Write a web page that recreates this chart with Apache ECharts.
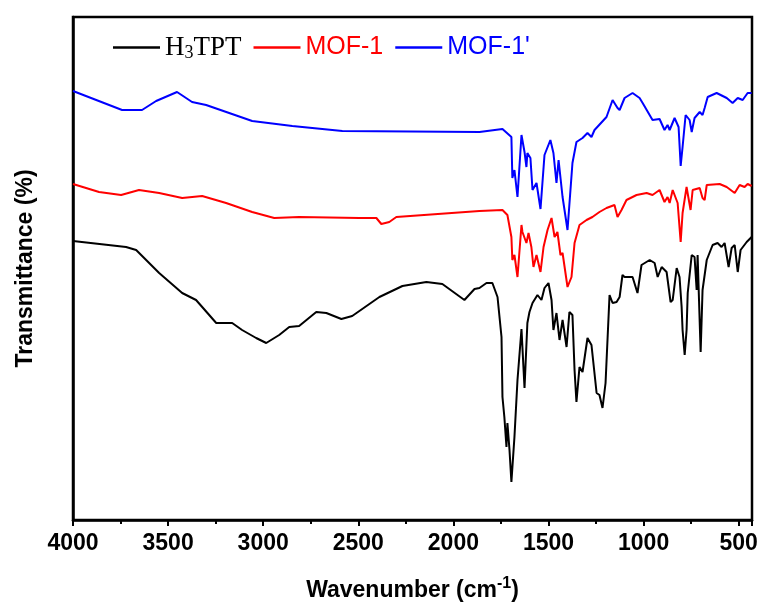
<!DOCTYPE html>
<html>
<head>
<meta charset="utf-8">
<script src="https://cdn.jsdelivr.net/npm/echarts@6/dist/echarts.min.js"></script>
<style>
html,body{margin:0;padding:0;background:#fff;}
#chart{width:760px;height:612px;}
</style>
</head>
<body>
<div id="chart"></div>
<script>
// Wavenumber (cm-1) and transmittance (arbitrary units, offset curves)
var h3tptWavenumber = [4000,3721,3668,3547,3426,3353,3247,3163,3111,3037,2984,2916,2863,2811,2721,2668,2589,2532,2389,2268,2142,2058,1942,1889,1863,1826,1795,1768,1747,1742,1732,1721,1716,1705,1695,1679,1663,1642,1626,1611,1600,1584,1558,1537,1521,1500,1484,1474,1458,1442,1426,1405,1390,1374,1363,1353,1337,1321,1295,1274,1247,1232,1216,1200,1179,1163,1142,1126,1111,1100,1090,1058,1032,1011,968,942,926,905,879,858,847,826,811,800,795,784,774,768,747,732,721,716,700,690,668,637,611,590,574,553,537,521,505,490,458,432];
var h3tptT = [279,273,270,247,227,220,197,197,190,182,177,185,193,194,208,207,201,204,223,234,238,236,220,231,232,237,237,223,183,123,103,73,97,70,38,83,140,191,132,197,208,217,225,220,232,237,220,190,207,180,200,173,208,205,150,118,153,148,182,175,127,125,112,137,225,217,218,223,245,243,242,243,227,255,260,257,243,253,248,218,220,252,243,213,190,165,190,227,265,263,230,265,168,230,260,275,277,273,277,253,272,275,248,270,278,283];

var mof1Wavenumber = [4000,3863,3747,3653,3547,3426,3321,3195,3058,2942,2811,2495,2405,2379,2337,2300,1863,1742,1716,1695,1690,1679,1663,1642,1637,1616,1605,1590,1579,1563,1542,1526,1505,1484,1468,1453,1437,1426,1400,1379,1363,1337,1300,1269,1232,1195,1153,1137,1116,1090,1037,984,953,916,890,874,863,847,821,805,795,774,753,742,705,690,679,668,600,563,521,495,469,453,432];
var mof1T = [336,328,325,330,327,322,324,317,308,302,303,302,302,296,298,303,309,310,305,283,260,265,243,295,288,277,287,273,253,265,248,273,290,302,283,288,265,267,233,243,277,295,300,303,308,312,315,303,310,320,325,327,325,330,318,323,317,330,317,278,307,333,310,330,332,322,320,335,336,333,327,335,333,336,334];

var mof1pWavenumber = [4000,3742,3637,3563,3453,3374,3300,3058,2847,2584,1863,1742,1695,1690,1679,1663,1642,1626,1616,1611,1595,1584,1563,1542,1521,1490,1474,1458,1447,1426,1400,1374,1353,1321,1295,1274,1258,1195,1163,1137,1126,1100,1058,1021,1005,953,916,890,874,863,837,816,805,795,779,758,747,732,705,690,679,663,616,563,532,505,479,453,432];
var mof1pT = [429,410,410,419,428,418,415,399,394,389,388,391,383,342,350,323,385,368,353,367,362,330,337,311,365,380,367,337,360,323,290,357,378,382,387,383,390,403,420,412,410,422,427,422,417,400,401,390,395,390,402,393,354,373,405,400,388,402,408,405,412,423,427,422,417,422,420,427,427];

var seriesNames = ['H3TPT', 'MOF-1', "MOF-1'"];
var seriesColors = ['#000000', '#ff0000', '#0000ff'];
var xTickLabels = [4000,3500,3000,2500,2000,1500,1000,500];

function zip(xs, ys){ var out=[]; for (var i=0;i<xs.length;i++) out.push([xs[i], ys[i]]); return out; }
var allData = [zip(h3tptWavenumber,h3tptT), zip(mof1Wavenumber,mof1T), zip(mof1pWavenumber,mof1pT)];

var chart = echarts.init(document.getElementById('chart'), null, {renderer:'canvas'});
var sans = 'Liberation Sans, Arial, sans-serif';
var serif = 'Liberation Serif, Times New Roman, serif';

var option = {
  animation: false,
  backgroundColor: '#fff',
  grid: {left: 73, right: 8, top: 17, bottom: 92, containLabel: false, outerBoundsMode: 'none',
         show: true, borderColor: '#000', borderWidth: 2.5, backgroundColor: 'transparent'},
  legend: {
    left: 108, top: 29, itemWidth: 47, itemHeight: 2.5, itemGap: 12,
    icon: 'rect',
    data: seriesNames,
    formatter: function(name){
      if (name === 'H3TPT') return '{hs|H}{sub|3}{hs|TPT}';
      if (name === 'MOF-1') return '{r|MOF-1}';
      return '{b|' + name + '}';
    },
    textStyle: {
      rich: {
        hs: {fontFamily: serif, fontSize: 27, color: '#000', lineHeight: 30, verticalAlign: 'middle'},
        sub: {fontFamily: serif, fontSize: 18, color: '#000', lineHeight: 16, verticalAlign: 'bottom'},
        r: {fontFamily: sans, fontSize: 25, color: '#ff0000', lineHeight: 30},
        b: {fontFamily: sans, fontSize: 25, color: '#0000ff', lineHeight: 30}
      }
    }
  },
  xAxis: {
    type: 'value', inverse: true, min: 430, max: 4000, splitNumber: 7,
    axisLine: {lineStyle: {color: '#000', width: 2.5}},
    axisTick: {length: 6, lineStyle: {color: '#000', width: 2}},
    minorTick: {show: true, splitNumber: 2, length: 4, lineStyle: {color: '#000', width: 2}},
    splitLine: {show: false},
    axisLabel: {
      margin: 12, color: '#000', fontFamily: sans, fontSize: 23, fontWeight: 'bold',
      formatter: function(v){ return xTickLabels.indexOf(v) >= 0 ? String(v) : ''; }
    },
    name: '{a|Wavenumber (cm}{sup|-1}{a|)}',
    nameLocation: 'middle', nameGap: 56,
    nameTextStyle: {
      rich: {
        a: {fontFamily: sans, fontSize: 23, fontWeight: 'bold', color: '#000', lineHeight: 30, verticalAlign: 'middle'},
        sup: {fontFamily: sans, fontSize: 16, fontWeight: 'bold', color: '#000', lineHeight: 12, verticalAlign: 'top'}
      }
    }
  },
  yAxis: {
    type: 'value', min: 0, max: 503,
    axisLine: {show: true, lineStyle: {color: '#000', width: 2.5}},
    axisTick: {show: false}, axisLabel: {show: false}, splitLine: {show: false},
    name: 'Transmittance (%)', nameLocation: 'middle', nameGap: 36,
    nameTextStyle: {fontFamily: sans, fontSize: 23, fontWeight: 'bold', color: '#000'}
  },
  series: seriesNames.map(function(n, i){
    return {
      name: n, type: 'line', data: allData[i], symbol: 'none', showSymbol: false,
      lineStyle: {color: seriesColors[i], width: 2}, itemStyle: {color: seriesColors[i]},
      silent: true, z: 3 - i
    };
  })
};
chart.setOption(option);
</script>
</body>
</html>
